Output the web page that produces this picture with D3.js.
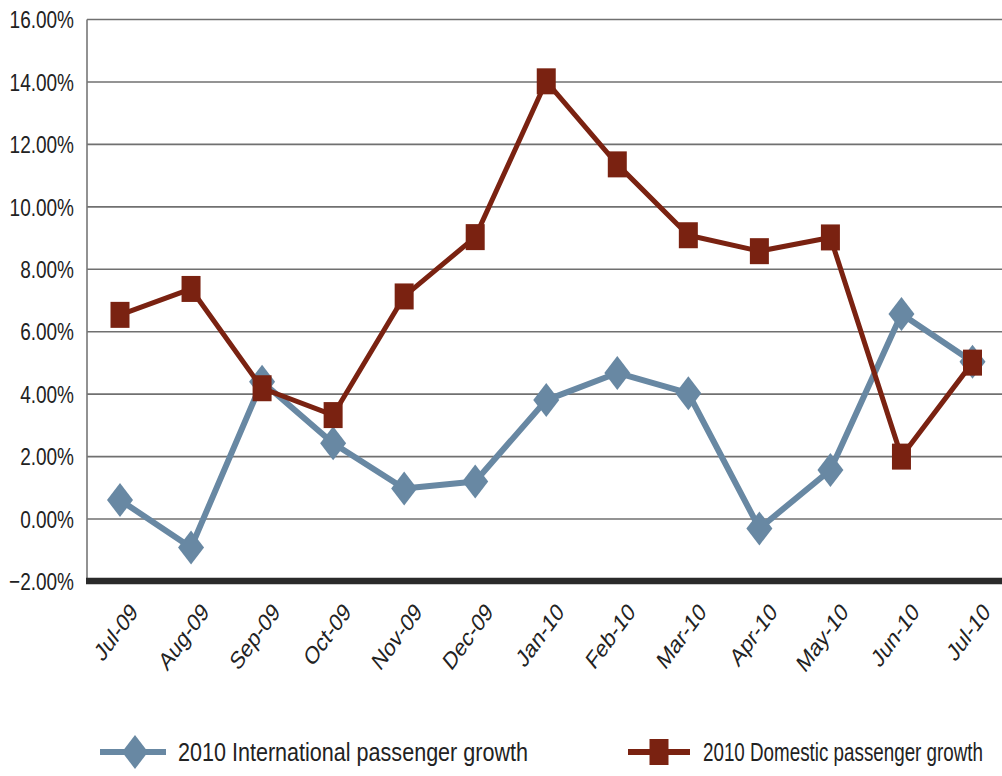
<!DOCTYPE html>
<html>
<head>
<meta charset="utf-8">
<script src="https://cdn.jsdelivr.net/npm/d3@7"></script>
<style>
  body { margin: 0; background: #fff; }
  svg { display: block; font-family: "Liberation Sans", Arial, sans-serif; }
</style>
</head>
<body>
<div id="chart"></div>
<script>
const months = ["Jul-09", "Aug-09", "Sep-09", "Oct-09", "Nov-09", "Dec-09", "Jan-10",
                "Feb-10", "Mar-10", "Apr-10", "May-10", "Jun-10", "Jul-10"];
const international = [0.61, -0.91, 4.40, 2.43, 0.98, 1.20, 3.81, 4.68, 4.03, -0.30, 1.57, 6.57, 5.04];
const domestic = [6.54, 7.37, 4.19, 3.33, 7.13, 9.03, 14.02, 11.36, 9.09, 8.58, 9.02, 2.00, 5.01];
const yTicks = [-2, 0, 2, 4, 6, 8, 10, 12, 14, 16];
const seriesNames = ["2010 International passenger growth", "2010 Domestic passenger growth"];

const width = 1002, height = 776;
const plotLeft = 87, plotRight = 1002;
const blue = "#6888a3", red = "#7a2211";
const stretch = 1.28; // the glyphs in the original are drawn tall and narrow

const svg = d3.select("#chart").append("svg")
    .attr("width", width)
    .attr("height", height);

const x = d3.scalePoint()
    .domain(months)
    .range([120, 972.5]);

const y = d3.scaleLinear()
    .domain([-2, 16])
    .range([581.5, 19.5]);

// gridlines
svg.append("g")
    .selectAll("line")
    .data(yTicks.filter(d => d > -2))
    .join("line")
    .attr("x1", plotLeft)
    .attr("x2", plotRight)
    .attr("y1", d => y(d))
    .attr("y2", d => y(d))
    .attr("stroke", "#707070")
    .attr("stroke-width", 1.6);

// left edge
svg.append("line")
    .attr("x1", plotLeft).attr("x2", plotLeft)
    .attr("y1", y(16)).attr("y2", y(-2))
    .attr("stroke", "#777")
    .attr("stroke-width", 1.6);

// thick baseline at -2%
svg.append("line")
    .attr("x1", plotLeft - 1)
    .attr("x2", plotRight)
    .attr("y1", y(-2) - 0.5)
    .attr("y2", y(-2) - 0.5)
    .attr("stroke", "#2a2a2a")
    .attr("stroke-width", 6.5);

// y axis labels
svg.append("g")
    .selectAll("text")
    .data(yTicks)
    .join("text")
    .attr("transform", d => `translate(74,${y(d)}) scale(1,${stretch})`)
    .attr("dy", "0.36em")
    .attr("text-anchor", "end")
    .attr("fill", "#222")
    .style("font-family", "'Liberation Sans Narrow', 'Liberation Sans', sans-serif")
    .style("font-size", "19px")
    .text(d => d3.format(".2f")(d) + "%");

// x axis labels
svg.append("g")
    .selectAll("text")
    .data(months)
    .join("text")
    .attr("transform", d => `translate(${x(d) + 19},${613}) scale(1,${stretch}) rotate(-47)`)
    .attr("text-anchor", "end")
    .attr("fill", "#222")
    .style("font-size", "19.5px")
    .text(d => d);

const line = d3.line()
    .x((d, i) => x(months[i]))
    .y(d => y(d));

const diamond = "M0,-17L13,0L0,17L-13,0Z";
const square = "M-9.5,-13L9.5,-13L9.5,13L-9.5,13Z";

// international series
svg.append("path")
    .datum(international)
    .attr("d", line)
    .attr("fill", "none")
    .attr("stroke", blue)
    .attr("stroke-width", 6)
    .attr("stroke-linejoin", "round");

svg.append("g")
    .selectAll("path")
    .data(international)
    .join("path")
    .attr("transform", (d, i) => `translate(${x(months[i])},${y(d)})`)
    .attr("d", diamond)
    .attr("fill", blue);

// domestic series
svg.append("path")
    .datum(domestic)
    .attr("d", line)
    .attr("fill", "none")
    .attr("stroke", red)
    .attr("stroke-width", 5)
    .attr("stroke-linejoin", "round");

svg.append("g")
    .selectAll("path")
    .data(domestic)
    .join("path")
    .attr("transform", (d, i) => `translate(${x(months[i])},${y(d)})`)
    .attr("d", square)
    .attr("fill", red);

// legend
const legend = svg.append("g").attr("transform", "translate(0,752)");
const legendItems = [
    { name: seriesNames[0], color: blue, marker: diamond, x0: 100, x1: 166, mx: 135, tx: 178, tw: 350 },
    { name: seriesNames[1], color: red, marker: square, x0: 628, x1: 690, mx: 659, tx: 703, tw: 280 }
];
legendItems.forEach(it => {
    legend.append("line")
        .attr("x1", it.x0).attr("x2", it.x1)
        .attr("stroke", it.color)
        .attr("stroke-width", 6);
    legend.append("path")
        .attr("transform", `translate(${it.mx},0)`)
        .attr("d", it.marker)
        .attr("fill", it.color);
    legend.append("text")
        .attr("transform", `translate(${it.tx},0) scale(1,${stretch})`)
        .attr("dy", "0.36em")
        .attr("fill", "#222")
        .attr("textLength", it.tw)
        .attr("lengthAdjust", "spacingAndGlyphs")
        .style("font-family", "'Liberation Sans Narrow', 'Liberation Sans', sans-serif")
        .style("font-size", "20px")
        .text(it.name);
});
</script>
</body>
</html>
